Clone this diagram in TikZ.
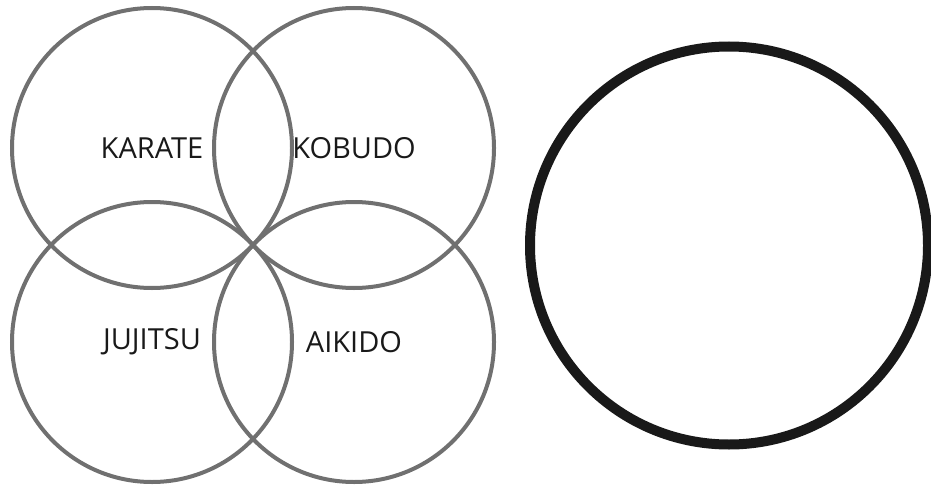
\documentclass[tikz,border=0pt]{standalone}
\usepackage{fontspec}
\setmainfont{Open Sans}
\usepackage{xcolor}
\usetikzlibrary{positioning}
\definecolor{ringgray}{HTML}{707070}

\begin{document}
\begin{tikzpicture}[x=1pt, y=-1pt,
      ring/.style={draw=ringgray, line width=4pt, circle, inner sep=0pt,
                   minimum size=280pt, font=\fontsize{29}{31}\selectfont,
                   text=black!90},
      bigring/.style={draw=black!90, line width=10pt, circle, inner sep=0pt,
                      minimum size=398pt}
    ]
      \useasboundingbox (0,0) rectangle (931,487);
      % four arts
      \node[ring] (karate)  at (152, 148) {KARATE};
      \node[ring] (kobudo)  at (354, 148) {KOBUDO};
      \node[ring] (jujitsu) at (152, 342) {JUJITSU};
      \node[ring] (aikido)  at (354, 342) {AIKIDO};

      % empty circle
      \node[bigring] (whole) at (729, 245.5) {};
    \end{tikzpicture}
\end{document}
